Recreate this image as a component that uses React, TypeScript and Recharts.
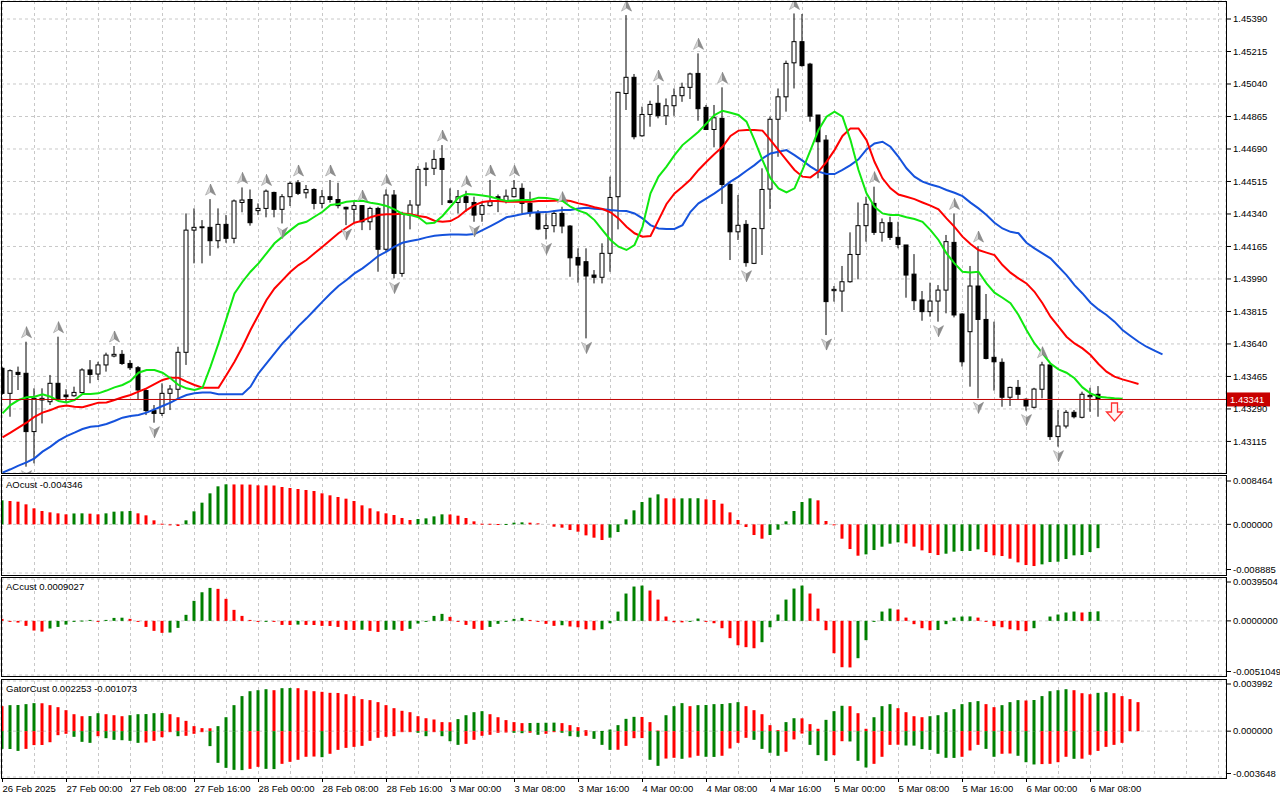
import React from "react";
import { ComposedChart, Bar, Line, Scatter, XAxis, YAxis, ReferenceLine, CartesianGrid } from "recharts";

const FONT = "'Liberation Sans', Arial, sans-serif";
const GRID = "#c8c8c8";
const UP = "#008000";
const DOWN = "#ff0000";

// H1 candles, bar 0 = 26 Feb 16:00
const opens = [
  1.43509, 1.43374, 1.43487, 1.43482, 1.43168, 1.43338, 1.43329, 1.43428, 1.43365, 1.43361,
  1.43378, 1.435, 1.43478, 1.43527, 1.43575, 1.43584, 1.43535, 1.43512, 1.43389, 1.43281,
  1.43266, 1.43374, 1.43396, 1.43595, 1.44253, 1.44266, 1.44268, 1.44196, 1.44284, 1.44209,
  1.44402, 1.44418, 1.44358, 1.4437, 1.44456, 1.44365, 1.44433, 1.44508, 1.44454, 1.44472,
  1.44397, 1.44433, 1.44418, 1.44376, 1.44365, 1.44385, 1.44298, 1.4437, 1.4415, 1.44442,
  1.4402, 1.44334, 1.44388, 1.4458, 1.44586, 1.44639, 1.44411, 1.44402, 1.44433, 1.44402,
  1.44338, 1.44385, 1.44433, 1.44408, 1.44433, 1.44478, 1.44397, 1.44343, 1.44262, 1.44277,
  1.44343, 1.44275, 1.44106, 1.44083, 1.44011, 1.43999, 1.44128, 1.44433, 1.44989, 1.45076,
  1.44761, 1.44876, 1.44936, 1.44869, 1.44923, 1.44977, 1.45022, 1.45097, 1.44914, 1.44795,
  1.44855, 1.44499, 1.44244, 1.44284, 1.44074, 1.44261, 1.44474, 1.4485, 1.44971, 1.45154,
  1.45268, 1.45147, 1.44873, 1.44738, 1.43927, 1.43925, 1.43975, 1.44122, 1.44277, 1.44397,
  1.44241, 1.44293, 1.44214, 1.44173, 1.44016, 1.43877, 1.43814, 1.43871, 1.4393, 1.44187,
  1.43801, 1.43706, 1.43952, 1.43772, 1.43568, 1.43541, 1.43353, 1.43406, 1.43342, 1.43299,
  1.43396, 1.43527, 1.43141, 1.43198, 1.43272, 1.43245, 1.43356, 1.43369,
];
const highs = [
  1.43518, 1.43503, 1.43518, 1.43652, 1.43401, 1.43401, 1.43473, 1.43679, 1.43396, 1.4341,
  1.43509, 1.43553, 1.43544, 1.43593, 1.43629, 1.43607, 1.43553, 1.43521, 1.43396, 1.43311,
  1.43428, 1.43419, 1.43625, 1.44343, 1.4437, 1.44307, 1.4442, 1.4437, 1.44334, 1.44418,
  1.44483, 1.44472, 1.44397, 1.44472, 1.4446, 1.44447, 1.44514, 1.44523, 1.44496, 1.44478,
  1.44469, 1.44523, 1.44508, 1.44379, 1.44406, 1.44388, 1.44379, 1.44379, 1.44472, 1.44469,
  1.44352, 1.44415, 1.44598, 1.44618, 1.44684, 1.44711, 1.44478, 1.44469, 1.44465, 1.44433,
  1.44406, 1.44523, 1.44445, 1.44472, 1.44523, 1.44505, 1.4446, 1.44361, 1.44343, 1.44358,
  1.44379, 1.4428, 1.44155, 1.44155, 1.44038, 1.44182, 1.44541, 1.44998, 1.45411, 1.45094,
  1.44918, 1.4495, 1.45034, 1.44962, 1.45016, 1.45047, 1.45101, 1.45205, 1.44927, 1.44927,
  1.45022, 1.44505, 1.44442, 1.44307, 1.44266, 1.44586, 1.44864, 1.45016, 1.45166, 1.4542,
  1.45417, 1.45154, 1.44873, 1.44765, 1.43952, 1.4406, 1.44241, 1.44402, 1.44433, 1.44487,
  1.44316, 1.44325, 1.44298, 1.44173, 1.44124, 1.43925, 1.4397, 1.43957, 1.44227, 1.44343,
  1.43805, 1.4406, 1.44167, 1.43909, 1.4376, 1.43562, 1.4341, 1.43446, 1.43347, 1.43404,
  1.43544, 1.43527, 1.43284, 1.43284, 1.43284, 1.43383, 1.43404, 1.43413,
];
const lows = [
  1.43365, 1.43248, 1.43392, 1.42979, 1.42997, 1.43212, 1.43311, 1.43338, 1.43324, 1.43356,
  1.43374, 1.43428, 1.43446, 1.43491, 1.43568, 1.43527, 1.435, 1.43338, 1.43257, 1.43216,
  1.43252, 1.43284, 1.43347, 1.43527, 1.44074, 1.44074, 1.44115, 1.44155, 1.44185, 1.44182,
  1.44349, 1.44277, 1.44334, 1.44322, 1.44322, 1.44289, 1.44383, 1.44442, 1.44424, 1.44365,
  1.4437, 1.44401, 1.4437, 1.4428, 1.44293, 1.44253, 1.44253, 1.44029, 1.44137, 1.43993,
  1.44002, 1.44257, 1.44329, 1.4449, 1.4455, 1.44388, 1.44397, 1.44343, 1.44352, 1.44298,
  1.44298, 1.44379, 1.4435, 1.44397, 1.44429, 1.44343, 1.44325, 1.44253, 1.44203, 1.44241,
  1.44236, 1.44002, 1.4397, 1.4367, 1.43966, 1.43966, 1.44029, 1.44257, 1.449, 1.44742,
  1.44756, 1.4481, 1.44855, 1.44819, 1.44869, 1.44944, 1.44959, 1.44842, 1.44792, 1.44699,
  1.44394, 1.44092, 1.442, 1.44056, 1.4407, 1.44119, 1.44367, 1.44648, 1.44891, 1.45016,
  1.45133, 1.44837, 1.44532, 1.43688, 1.43868, 1.43814, 1.4397, 1.43988, 1.44191, 1.44227,
  1.44191, 1.442, 1.44155, 1.43889, 1.43823, 1.43765, 1.43787, 1.4376, 1.43805, 1.43783,
  1.43518, 1.4341, 1.43347, 1.43557, 1.43389, 1.43302, 1.43306, 1.43338, 1.43281, 1.43293,
  1.43347, 1.43123, 1.43087, 1.43185, 1.43239, 1.43239, 1.43275, 1.43248,
];
const closes = [
  1.43374, 1.43496, 1.43476, 1.43168, 1.43347, 1.43347, 1.43428, 1.43343, 1.43356, 1.43379,
  1.435, 1.43476, 1.43527, 1.4358, 1.43584, 1.43535, 1.43512, 1.43392, 1.43281, 1.43266,
  1.43374, 1.43397, 1.43595, 1.44253, 1.44268, 1.44271, 1.44196, 1.44284, 1.44209, 1.4441,
  1.44415, 1.44293, 1.4437, 1.44463, 1.44365, 1.44433, 1.44505, 1.44451, 1.44472, 1.44397,
  1.44433, 1.44418, 1.44385, 1.44367, 1.44385, 1.44298, 1.4437, 1.4415, 1.44442, 1.4402,
  1.44343, 1.44388, 1.4458, 1.44586, 1.44634, 1.4458, 1.44402, 1.44433, 1.44402, 1.44334,
  1.44385, 1.44406, 1.44424, 1.44436, 1.44478, 1.44397, 1.44347, 1.44259, 1.44277, 1.44343,
  1.44275, 1.44104, 1.44065, 1.44006, 1.43999, 1.44128, 1.44429, 1.44995, 1.45076, 1.44756,
  1.44876, 1.4493, 1.44869, 1.44923, 1.44977, 1.45022, 1.45094, 1.44907, 1.44795, 1.44858,
  1.44499, 1.44244, 1.44279, 1.44078, 1.44262, 1.44472, 1.4485, 1.44971, 1.45151, 1.45268,
  1.45139, 1.44867, 1.44729, 1.43868, 1.43934, 1.43975, 1.44122, 1.44277, 1.44392, 1.44241,
  1.44293, 1.44214, 1.44176, 1.44011, 1.43873, 1.43814, 1.43871, 1.4393, 1.44191, 1.43796,
  1.43544, 1.43952, 1.43772, 1.43562, 1.43544, 1.43353, 1.43406, 1.43369, 1.43306, 1.43397,
  1.43527, 1.43141, 1.43198, 1.43272, 1.43248, 1.43369, 1.43363, 1.43341,
];

// Alligator lines as drawn (already shifted forward)
const jaw = [
  1.42947, 1.42965, 1.42985, 1.43002, 1.43024, 1.4306, 1.43087, 1.43119, 1.43144, 1.43162,
  1.43182, 1.43194, 1.43198, 1.43209, 1.43225, 1.43243, 1.43252, 1.43257, 1.4327, 1.43288,
  1.43306, 1.43324, 1.43347, 1.43365, 1.43374, 1.43378, 1.43378, 1.43369, 1.43369, 1.43369,
  1.43369, 1.4341, 1.43482, 1.43535, 1.43589, 1.43643, 1.43688, 1.43736, 1.43778, 1.43823,
  1.43868, 1.43912, 1.43952, 1.43984, 1.4402, 1.44047, 1.4408, 1.44115, 1.44137, 1.44164,
  1.44185, 1.44194, 1.44203, 1.44214, 1.44223, 1.44227, 1.4423, 1.4423, 1.44228, 1.44232,
  1.44253, 1.44275, 1.44298, 1.44322, 1.44331, 1.4434, 1.44347, 1.44349, 1.4435, 1.44356,
  1.44361, 1.44361, 1.4437, 1.44374, 1.44368, 1.44365, 1.44361, 1.44358, 1.44356, 1.44343,
  1.44316, 1.4428, 1.44262, 1.44259, 1.44259, 1.4428, 1.44352, 1.44397, 1.44424, 1.44451,
  1.44481, 1.44514, 1.44541, 1.44573, 1.44603, 1.44639, 1.44666, 1.44675, 1.44684, 1.44657,
  1.44627, 1.44595, 1.44568, 1.44555, 1.44555, 1.44577, 1.44603, 1.44634, 1.44688, 1.4472,
  1.44729, 1.44702, 1.44648, 1.44586, 1.44541, 1.44514, 1.44499, 1.44487, 1.44469, 1.44454,
  1.44436, 1.44401, 1.4437, 1.44334, 1.44293, 1.44262, 1.44244, 1.44236, 1.44185, 1.44155,
  1.44128, 1.44101, 1.44056, 1.44011, 1.43957, 1.43912, 1.43862, 1.43826, 1.43796, 1.4376,
  1.43715, 1.43683, 1.43652, 1.43625, 1.43604, 1.43584,
];
const teeth = [
  1.43137, 1.43162, 1.43189, 1.43216, 1.43248, 1.4327, 1.43284, 1.43302, 1.43308, 1.43302,
  1.43299, 1.43311, 1.43324, 1.43325, 1.43338, 1.43353, 1.43365, 1.43383, 1.43401, 1.43424,
  1.43446, 1.43458, 1.43458, 1.43437, 1.43419, 1.43404, 1.43404, 1.43404, 1.43473, 1.43544,
  1.43625, 1.43715, 1.43796, 1.43877, 1.43939, 1.43984, 1.44029, 1.44065, 1.44092, 1.44128,
  1.44164, 1.442, 1.44236, 1.44266, 1.44293, 1.44304, 1.44322, 1.44334, 1.44338, 1.44338,
  1.44343, 1.44338, 1.44329, 1.44322, 1.44304, 1.44298, 1.44302, 1.44325, 1.44361, 1.44388,
  1.44404, 1.4441, 1.4441, 1.44406, 1.44406, 1.44406, 1.44406, 1.4441, 1.4441, 1.44411,
  1.44415, 1.4441, 1.44397, 1.44388, 1.44376, 1.44367, 1.44349, 1.44316, 1.44271, 1.44236,
  1.44218, 1.44221, 1.44307, 1.44394, 1.44451, 1.44487, 1.44526, 1.44577, 1.44621, 1.44663,
  1.44702, 1.4476, 1.44789, 1.44792, 1.44792, 1.44789, 1.44738, 1.44684, 1.4463, 1.44577,
  1.44541, 1.44537, 1.44568, 1.44621, 1.44684, 1.4476, 1.44801, 1.44801, 1.44738, 1.44621,
  1.44532, 1.44478, 1.44445, 1.44433, 1.4442, 1.44402, 1.44385, 1.44365, 1.44316, 1.44271,
  1.44218, 1.44178, 1.44146, 1.44132, 1.44119, 1.44065, 1.44024, 1.43993, 1.43966, 1.43921,
  1.43859, 1.43787, 1.43733, 1.43679, 1.43643, 1.43616, 1.4358, 1.43532, 1.43491, 1.43464,
  1.43449, 1.43437, 1.43424,
];
const lips = [
  1.43266, 1.43311, 1.43338, 1.43353, 1.43356, 1.43369, 1.43356, 1.43333, 1.43325, 1.43338,
  1.43371, 1.43371, 1.43374, 1.43389, 1.43406, 1.43419, 1.43441, 1.43485, 1.435, 1.435,
  1.43485, 1.43455, 1.43419, 1.43401, 1.43392, 1.43404, 1.43518, 1.43643, 1.43778, 1.43912,
  1.43975, 1.44029, 1.44074, 1.44128, 1.44182, 1.44218, 1.44253, 1.44286, 1.44298, 1.44325,
  1.44352, 1.44388, 1.44394, 1.44406, 1.4441, 1.44411, 1.44401, 1.44394, 1.44383, 1.44365,
  1.4434, 1.44334, 1.44322, 1.44289, 1.44293, 1.44329, 1.44379, 1.44428, 1.44447, 1.44445,
  1.4444, 1.44433, 1.4442, 1.4441, 1.44413, 1.44415, 1.44415, 1.44428, 1.44426, 1.4442,
  1.4441, 1.44379, 1.44358, 1.44343, 1.44307, 1.44253, 1.442, 1.44164, 1.44146, 1.44173,
  1.44271, 1.44451, 1.44541, 1.44595, 1.44657, 1.44711, 1.44747, 1.44783, 1.44828, 1.44873,
  1.44896, 1.44885, 1.44873, 1.44837, 1.44738, 1.4463, 1.44532, 1.44478, 1.44456, 1.44478,
  1.44577, 1.44684, 1.44792, 1.44864, 1.44891, 1.44864, 1.44738, 1.44577, 1.44451, 1.44379,
  1.44343, 1.44334, 1.44334, 1.44322, 1.44313, 1.44298, 1.44253, 1.442, 1.44128, 1.44074,
  1.44029, 1.44025, 1.44029, 1.43966, 1.43916, 1.43889, 1.43859, 1.43796, 1.43715, 1.43643,
  1.43589, 1.43535, 1.43503, 1.43485, 1.43455, 1.43406, 1.43374, 1.43356, 1.43351, 1.43347,
  1.43345,
];

const fractalUpBars = [3, 7, 14, 26, 30, 33, 37, 41, 45, 48, 55, 58, 61, 64, 70, 78, 82, 87, 90, 99, 109, 119, 122, 130];
const fractalDownBars = [3, 19, 35, 43, 49, 59, 68, 73, 93, 103, 117, 122, 128, 132];
const sellSignal = { bar: 139, price: 1.43322 };
const lastPrice = 1.43341;

const aoValues = [
  0.004385, 0.004263, 0.004141, 0.003654, 0.002923, 0.002436, 0.002192, 0.00201, 0.001827, 0.00199,
  0.00201, 0.001949, 0.001827, 0.00201, 0.002314, 0.002375, 0.002436, 0.00201, 0.001644, 0.000731,
  0.000122, -0.000061, -0.000305, 0.000731, 0.002375, 0.003959, 0.005664, 0.006943, 0.007308, 0.00729,
  0.00728, 0.00726, 0.007125, 0.00711, 0.007095, 0.006821, 0.006638, 0.006455, 0.006273, 0.00609,
  0.005664, 0.005298, 0.004994, 0.004689, 0.004263, 0.003471, 0.002923, 0.002375, 0.00201, 0.001705,
  0.001157, 0.000792, 0.000974, 0.001096, 0.001462, 0.001827, 0.0018, 0.001583, 0.001157, 0.000548,
  0.000122, 0.00011, 0.000061, 0.00007, 0.000305, 0.000365, 0.000305, 0.000183, 0.0, -0.000426,
  -0.000609, -0.001035, -0.00134, -0.00201, -0.002436, -0.002862, -0.002436, -0.001401, 0.000914, 0.002558,
  0.00408, 0.004872, 0.005481, 0.00476, 0.00474, 0.00475, 0.00476, 0.00477, 0.004568, 0.004446,
  0.003776, 0.002192, 0.000792, -0.000487, -0.001949, -0.002619, -0.001949, -0.000974, 0.000548, 0.002436,
  0.00408, 0.00475, 0.004385, 0.000609, -0.000122, -0.002619, -0.004507, -0.005725, -0.005481, -0.004689,
  -0.00408, -0.003532, -0.003289, -0.003471, -0.00408, -0.00475, -0.005237, -0.005603, -0.005359, -0.004994,
  -0.004872, -0.00486, -0.004568, -0.005055, -0.005664, -0.005786, -0.006273, -0.006943, -0.00743, -0.007613,
  -0.007308, -0.006882, -0.006821, -0.006334, -0.005664, -0.005603, -0.005055, -0.004346,
];
const acValues = [
  0.00019, -0.00003, -0.00016, -0.00047, -0.00091, -0.00101, -0.00072, -0.00057, -0.00035, -0.00003,
  0.00003, 0.00009, -0.00003, 0.00009, 0.00028, 0.0003, 0.00019, -0.00006, -0.00057, -0.00094,
  -0.00113, -0.0011, -0.00066, 0.00057, 0.00189, 0.0027, 0.00311, 0.00302, 0.00208, 0.00104,
  0.00047, 0.00009, -0.00003, -0.00002, -0.00004, -0.00038, -0.00039, -0.00035, -0.00038, -0.00039,
  -0.00047, -0.00048, -0.00057, -0.00085, -0.00086, -0.00083, -0.00094, -0.00104, -0.00085, -0.00083,
  -0.00094, -0.00075, -0.00025, -0.00003, 0.00047, 0.00066, 0.00038, -0.00003, -0.00038, -0.00075,
  -0.00085, -0.00057, -0.00028, -0.00003, 0.00019, 0.00028, 0.00009, -0.00003, -0.00028, -0.00047,
  -0.00041, -0.00053, -0.0006, -0.00079, -0.00088, -0.00079, -0.00022, 0.00088, 0.00258, 0.00324,
  0.00333, 0.00286, 0.00201, 0.00041, -0.00013, -0.00014, -0.00003, 0.00022, -0.00006, -0.00022,
  -0.00069, -0.00163, -0.0023, -0.00248, -0.00258, -0.00201, -0.0006, 0.0006, 0.00201, 0.00305,
  0.00333, 0.00258, 0.00116, -0.00088, -0.00305, -0.00437, -0.00439, -0.00352, -0.00182, -0.00003,
  0.00088, 0.00116, 0.00107, 0.00031, -0.00031, -0.00069, -0.00088, -0.00086, -0.00031, 0.00031,
  0.00041, 0.00042, 0.00031, -0.00006, -0.0005, -0.0006, -0.00079, -0.00088, -0.00097, -0.00069,
  0.0, 0.00041, 0.0006, 0.00079, 0.00088, 0.00079, 0.00085, 0.0009,
];
const gatorUpper = [
  0.00199, 0.00207, 0.00208, 0.00215, 0.00223, 0.00222, 0.00207, 0.00191, 0.00167, 0.00135,
  0.00119, 0.0012, 0.00143, 0.00135, 0.00127, 0.00119, 0.00127, 0.00135, 0.00136, 0.00143,
  0.00144, 0.00135, 0.00111, 0.00082, 0.0004, 0.00024, 0.00023, 0.0004, 0.00111, 0.00207,
  0.00279, 0.00318, 0.00326, 0.00334, 0.00326, 0.00342, 0.00343, 0.00342, 0.00326, 0.00318,
  0.00313, 0.00305, 0.00304, 0.00294, 0.00279, 0.00255, 0.00247, 0.00231, 0.00207, 0.00183,
  0.00162, 0.00151, 0.00119, 0.00103, 0.00093, 0.00072, 0.00071, 0.00096, 0.00127, 0.00151,
  0.00159, 0.00135, 0.00111, 0.00088, 0.00072, 0.00064, 0.00065, 0.00066, 0.00067, 0.00068,
  0.00064, 0.00048, 0.00032, 0.00008, 0.0, 0.00001, 0.00013, 0.00048, 0.00098, 0.00114,
  0.00113, 0.00072, 0.00005, 0.00127, 0.00199, 0.00223, 0.00199, 0.00207, 0.00208, 0.00215,
  0.00216, 0.00223, 0.00231, 0.00199, 0.00167, 0.00135, 0.00048, 0.00008, 0.00072, 0.00103,
  0.00102, 0.00056, 0.00019, 0.0009, 0.00159, 0.00202, 0.00199, 0.00143, 0.00019, 0.00111,
  0.00199, 0.00215, 0.00183, 0.00151, 0.00119, 0.00111, 0.00119, 0.00127, 0.00151, 0.00175,
  0.00215, 0.00231, 0.00239, 0.00215, 0.00191, 0.00207, 0.00231, 0.00247, 0.00244, 0.00248,
  0.00279, 0.00318, 0.00326, 0.00334, 0.00326, 0.00302, 0.00294, 0.00305, 0.0031, 0.00302,
  0.00279, 0.00255, 0.00231,
];
const gatorLower = [
  -0.00141, -0.00142, -0.00157, -0.00141, -0.00111, -0.0011, -0.00088, -0.00032, -0.00021, -0.00045,
  -0.00085, -0.00093, -0.0004, -0.00056, -0.00069, -0.00072, -0.00077, -0.00093, -0.0009, -0.00077,
  -0.00048, -0.00005, -0.0004, -0.00037, -0.00021, -0.00005, -0.00119, -0.00252, -0.00292, -0.00308,
  -0.0031, -0.003, -0.00284, -0.003, -0.00302, -0.0026, -0.00244, -0.00228, -0.00204, -0.00202,
  -0.00207, -0.0018, -0.00149, -0.00133, -0.00125, -0.00117, -0.00077, -0.00053, -0.00045, -0.0004,
  -0.00008, -0.00005, -0.00013, -0.0004, -0.00005, -0.0004, -0.0008, -0.00109, -0.00101, -0.00069,
  -0.00037, -0.00029, -0.00013, -0.00011, -0.00013, -0.00016, -0.00013, -0.00029, -0.00021, -0.00008,
  -0.00013, -0.0004, -0.00045, -0.00037, -0.00061, -0.00109, -0.00149, -0.00148, -0.00117, -0.00056,
  -0.00055, -0.00228, -0.00276, -0.00218, -0.00212, -0.0022, -0.0021, -0.00196, -0.00204, -0.00205,
  -0.00196, -0.00138, -0.00093, -0.00053, -0.00069, -0.00141, -0.00172, -0.00196, -0.00164, -0.00066,
  -0.00019, -0.00109, -0.00191, -0.00236, -0.00191, -0.0008, -0.00082, -0.00236, -0.00289, -0.0026,
  -0.00204, -0.00109, -0.00108, -0.00114, -0.00115, -0.00143, -0.00149, -0.0018, -0.00212, -0.00213,
  -0.00204, -0.00154, -0.00109, -0.00141, -0.00204, -0.0018, -0.00178, -0.00196, -0.00247, -0.00265,
  -0.00262, -0.0026, -0.00247, -0.00204, -0.0022, -0.00219, -0.00188, -0.00157, -0.00125, -0.00109,
  -0.00093,
];

const priceTicks = [
  1.43115, 1.4329, 1.43465, 1.4364, 1.43815, 1.4399, 1.44165, 1.4434, 1.44515, 1.4469,
  1.44865, 1.4504, 1.45215, 1.4539,
];
const timeLabels = [
  "26 Feb 2025", "27 Feb 00:00", "27 Feb 08:00", "27 Feb 16:00", "28 Feb 00:00", "28 Feb 08:00",
  "28 Feb 16:00", "3 Mar 00:00", "3 Mar 08:00", "3 Mar 16:00", "4 Mar 00:00", "4 Mar 08:00",
  "4 Mar 16:00", "5 Mar 00:00", "5 Mar 08:00", "5 Mar 16:00", "6 Mar 00:00", "6 Mar 08:00",
];

const PRICE_DOMAIN: [number, number] = [1.42945, 1.45487];
const AO_DOMAIN: [number, number] = [-0.008885, 0.008464];
const AC_DOMAIN: [number, number] = [-0.0051049, 0.0039504];
const GATOR_DOMAIN: [number, number] = [-0.003648, 0.003992];
const X_DOMAIN: [number, number] = [-0.1875, 152.9375];
const gridBars = Array.from({ length: 39 }, (_, k) => k * 4);
const timeTicks = timeLabels.map((_, k) => k * 8);

const mainRows = jaw.map((_, i) => ({
  i,
  range: i < opens.length ? [lows[i], highs[i]] : null,
  open: opens[i],
  high: highs[i],
  low: lows[i],
  close: closes[i],
  jaw: jaw[i],
  teeth: teeth[i],
  lips: lips[i],
}));

const trendColor = (vals: number[], i: number, first: string, useAbs = false) => {
  if (vals[i] == null) return undefined;
  if (i === 0) return first;
  const a = useAbs ? Math.abs(vals[i]) : vals[i];
  const b = useAbs ? Math.abs(vals[i - 1]) : vals[i - 1];
  return a > b ? UP : DOWN;
};

const subRows = gatorUpper.map((_, i) => ({
  i,
  ao: aoValues[i],
  aoColor: trendColor(aoValues, i, UP),
  ac: acValues[i],
  acColor: trendColor(acValues, i, DOWN),
  gUp: gatorUpper[i],
  gUpColor: trendColor(gatorUpper, i, DOWN),
  gDn: gatorLower[i],
  gDnColor: trendColor(gatorLower, i, UP, true),
}));

const fracUpPts = fractalUpBars.map((i) => ({ i, y: highs[i] }));
const fracDnPts = fractalDownBars.map((i) => ({ i, y: lows[i] }));
const sellPts = [{ i: sellSignal.bar, y: sellSignal.price }];

function Candle(props: any) {
  const { x, width, payload } = props;
  let { y, height } = props;
  if (!payload || payload.open == null || height == null || isNaN(y)) return null;
  if (height < 0) {
    y += height;
    height = -height;
  }
  const cx = x + width / 2;
  const k = height / (payload.high - payload.low || 1);
  const yO = y + (payload.high - payload.open) * k;
  const yC = y + (payload.high - payload.close) * k;
  const top = Math.min(yO, yC);
  const bot = Math.max(yO, yC);
  const bull = payload.close >= payload.open;
  return (
    <g>
      <line x1={cx} x2={cx} y1={y} y2={y + height} stroke="#000" strokeWidth={1} />
      <rect x={cx - 2} y={top} width={4} height={Math.max(bot - top, 0.6)} fill={bull ? "#fff" : "#000"} stroke="#000" strokeWidth={1} />
    </g>
  );
}

function FractalUp(props: any) {
  const { cx, cy } = props;
  if (cx == null || cy == null) return null;
  const b = cy - 4;
  const t = cy - 15;
  return (
    <g>
      <polygon points={`${cx},${t} ${cx - 5},${b} ${cx},${b - 3}`} fill="#d4d4d4" stroke="#9a9a9a" strokeWidth={0.6} />
      <polygon points={`${cx},${t} ${cx + 5},${b} ${cx},${b - 3}`} fill="#8e8e8e" stroke="#808080" strokeWidth={0.6} />
    </g>
  );
}

function FractalDown(props: any) {
  const { cx, cy } = props;
  if (cx == null || cy == null) return null;
  const t = cy + 4;
  const b = cy + 15;
  return (
    <g>
      <polygon points={`${cx},${b} ${cx - 5},${t} ${cx},${t + 3}`} fill="#d4d4d4" stroke="#9a9a9a" strokeWidth={0.6} />
      <polygon points={`${cx},${b} ${cx + 5},${t} ${cx},${t + 3}`} fill="#8e8e8e" stroke="#808080" strokeWidth={0.6} />
    </g>
  );
}

function SellArrow(props: any) {
  const { cx, cy } = props;
  if (cx == null || cy == null) return null;
  const pts = [
    [cx - 3, cy], [cx + 3, cy], [cx + 3, cy + 9], [cx + 8, cy + 9],
    [cx, cy + 18], [cx - 8, cy + 9], [cx - 3, cy + 9],
  ].map((p) => p.join(",")).join(" ");
  return <polygon points={pts} fill="#fff4f4" stroke="#ff3030" strokeWidth={1.3} />;
}

function PriceTag(props: any) {
  const vb = props.viewBox || {};
  const right = vb.x + vb.width;
  const y = vb.y;
  return (
    <g>
      <rect x={right + 1} y={y - 7} width={43} height={14} fill="#c80000" />
      <text x={right + 4} y={y} dy="0.35em" fill="#fff" fontSize={9.5} fontFamily={FONT}>
        {lastPrice.toFixed(5)}
      </text>
    </g>
  );
}

function PriceAxisTick(props: any) {
  const { x, y, payload } = props;
  return (
    <g>
      <line x1={x + 1} x2={x + 5} y1={y} y2={y} stroke="#000" />
      <text x={x + 7} y={y} dy="0.35em" fontSize={9.5} fontFamily={FONT} fill="#000">
        {payload.value.toFixed(5)}
      </text>
    </g>
  );
}

const makeSubTick = (digits: number, domain: [number, number]) => (props: any) => {
  const { x, y, payload } = props;
  const v = payload.value;
  const yy = v === domain[1] ? y + 3 : v === domain[0] ? y - 3.5 : y;
  return (
    <g>
      <line x1={x + 1} x2={x + 5} y1={yy} y2={yy} stroke="#000" />
      <text x={x + 7} y={yy} dy="0.35em" fontSize={9.5} fontFamily={FONT} fill="#000">
        {v.toFixed(digits)}
      </text>
    </g>
  );
};

function TimeTick(props: any) {
  const { x, y, payload } = props;
  const label = timeLabels[Math.round(payload.value / 8)];
  return (
    <g>
      <line x1={x} x2={x} y1={y + 1} y2={y + 5} stroke="#000" />
      <text x={x} y={y + 15} fontSize={9.5} fontFamily={FONT} fill="#000">
        {label}
      </text>
    </g>
  );
}

const histShape = (colorKey: string) => (props: any) => {
  const { x, width, payload } = props;
  let { y, height } = props;
  if (!payload || payload[colorKey] == null || height == null || isNaN(y) || height === 0) return null;
  if (height < 0) {
    y += height;
    height = -height;
  }
  const cx = x + width / 2;
  return <rect x={cx - 1.5} y={y} width={3} height={Math.max(height, 1)} fill={payload[colorKey]} />;
};

const frame = (top: number, height: number): React.CSSProperties => ({
  position: "absolute",
  left: 1,
  top,
  width: 1226,
  height,
  border: "1px solid #000",
  boxSizing: "border-box",
  pointerEvents: "none",
});

const title = (top: number): React.CSSProperties => ({
  position: "absolute",
  left: 6,
  top,
  fontSize: 9.5,
  lineHeight: "11px",
  color: "#000",
  fontFamily: FONT,
  whiteSpace: "nowrap",
});

// one indicator sub-window: its own value axis, a hidden zero axis for the grid
function SubPanel(props: { top: number; height: number; margin: any; domain: [number, number]; digits: number; withTime?: boolean; children: React.ReactNode }) {
  const { top, height, margin, domain, digits, withTime, children } = props;
  return (
    <div style={{ position: "absolute", left: 0, top }}>
      <ComposedChart width={1280} height={height} data={subRows} stackOffset="sign" margin={margin}>
        <XAxis xAxisId="grid" dataKey="i" type="number" domain={X_DOMAIN} ticks={gridBars} interval={0} hide allowDataOverflow />
        <YAxis yAxisId="zero" orientation="right" domain={domain} ticks={[0]} interval={0} hide allowDataOverflow />
        <CartesianGrid xAxisId="grid" yAxisId="zero" stroke={GRID} strokeDasharray="3 3" />
        {withTime ? (
          <XAxis dataKey="i" type="number" domain={X_DOMAIN} ticks={timeTicks} interval={0} height={23}
            axisLine={false} tickLine={false} tickSize={0} tickMargin={0} tick={TimeTick} allowDataOverflow />
        ) : (
          <XAxis dataKey="i" type="number" domain={X_DOMAIN} hide allowDataOverflow />
        )}
        <YAxis orientation="right" domain={domain} ticks={[domain[0], 0, domain[1]]} interval={0} width={54}
          axisLine={false} tickLine={false} tickSize={0} tickMargin={0} tick={makeSubTick(digits, domain)} allowDataOverflow />
        {children}
      </ComposedChart>
    </div>
  );
}

export default function App() {
  return (
    <div style={{ position: "absolute", left: 0, top: 0, width: 1280, height: 800, background: "#fff", overflow: "hidden", fontFamily: FONT }}>
      <div style={{ position: "absolute", left: 0, top: 0 }}>
        <ComposedChart width={1280} height={475} data={mainRows} margin={{ top: 1, right: 0, bottom: 2, left: 1 }}>
          <XAxis dataKey="i" type="number" domain={X_DOMAIN} ticks={gridBars} interval={0} hide allowDataOverflow />
          <YAxis
            orientation="right"
            domain={PRICE_DOMAIN}
            ticks={priceTicks}
            interval={0}
            width={54}
            axisLine={false}
            tickLine={false}
            tickSize={0}
            tickMargin={0}
            tick={PriceAxisTick}
            allowDataOverflow
          />
          <CartesianGrid stroke={GRID} strokeDasharray="3 3" />
          <Line dataKey="jaw" type="linear" stroke="#1552dc" strokeWidth={2} dot={false} activeDot={false} isAnimationActive={false} />
          <Line dataKey="teeth" type="linear" stroke="#ff0000" strokeWidth={2} dot={false} activeDot={false} isAnimationActive={false} />
          <Line dataKey="lips" type="linear" stroke="#10e810" strokeWidth={2} dot={false} activeDot={false} isAnimationActive={false} />
          <Bar dataKey="range" barSize={5} shape={Candle} isAnimationActive={false} />
          <ReferenceLine y={lastPrice} stroke="#c00000" strokeWidth={1} label={PriceTag} />
          <Scatter data={fracUpPts} dataKey="y" shape={FractalUp} isAnimationActive={false} />
          <Scatter data={fracDnPts} dataKey="y" shape={FractalDown} isAnimationActive={false} />
          <Scatter data={sellPts} dataKey="y" shape={SellArrow} isAnimationActive={false} />
        </ComposedChart>
      </div>

      <SubPanel top={476} height={100} margin={{ top: 2, right: 0, bottom: 3, left: 1 }} domain={AO_DOMAIN} digits={6}>
        <Bar dataKey="ao" barSize={3} shape={histShape("aoColor")} isAnimationActive={false} />
      </SubPanel>

      <SubPanel top={577} height={100} margin={{ top: 2, right: 0, bottom: 2, left: 1 }} domain={AC_DOMAIN} digits={7}>
        <Bar dataKey="ac" barSize={3} shape={histShape("acColor")} isAnimationActive={false} />
      </SubPanel>

      <SubPanel top={679} height={121} margin={{ top: 2, right: 0, bottom: 0, left: 1 }} domain={GATOR_DOMAIN} digits={6} withTime>
        <Bar dataKey="gUp" stackId="g" barSize={3} shape={histShape("gUpColor")} isAnimationActive={false} />
        <Bar dataKey="gDn" stackId="g" barSize={3} shape={histShape("gDnColor")} isAnimationActive={false} />
      </SubPanel>

      <div style={frame(1, 473)} />
      <div style={frame(475, 101)} />
      <div style={frame(577, 100)} />
      <div style={frame(679, 100)} />

      <div style={title(479)}>AOcust -0.004346</div>
      <div style={title(581)}>ACcust 0.0009027</div>
      <div style={title(683)}>GatorCust 0.002253 -0.001073</div>
    </div>
  );
}
